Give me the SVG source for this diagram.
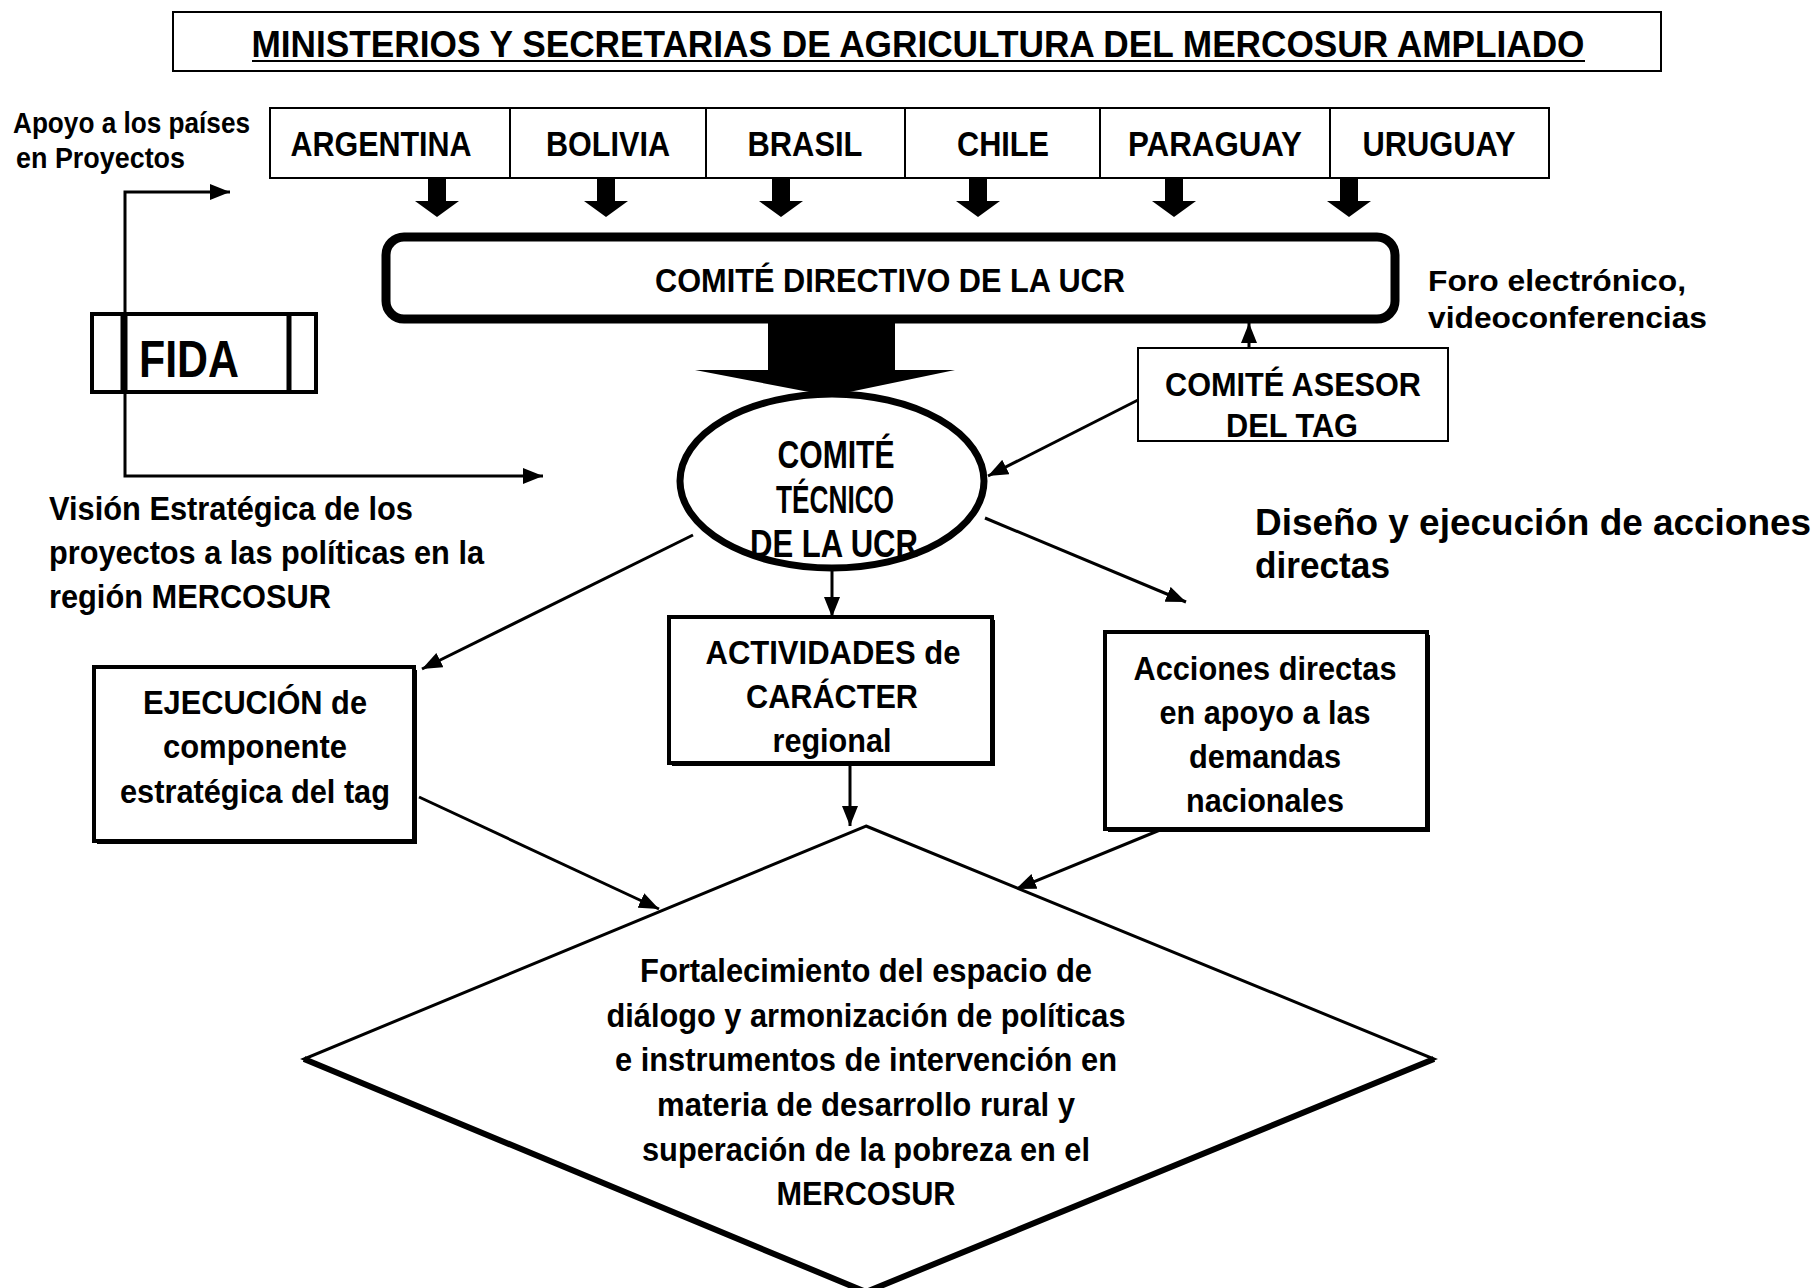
<svg xmlns="http://www.w3.org/2000/svg" width="1817" height="1288" viewBox="0 0 1817 1288">
<defs>
<style>
.t{font-family:"Liberation Sans",Arial,sans-serif;font-weight:bold;fill:#000;}
.c{text-anchor:middle;}
.box{fill:#fff;stroke:#000;stroke-width:2;}
.sbox{fill:#fff;stroke:#000;stroke-width:4;}
.ln{fill:none;stroke:#000;stroke-width:3;}
.blk{fill:#000;stroke:none;}
</style>
<marker id="ah" markerUnits="userSpaceOnUse" markerWidth="20" markerHeight="16" refX="20" refY="8" orient="auto">
<path d="M0,0 L20,8 L0,16 z" fill="#000"/>
</marker>
</defs>
<rect width="1817" height="1288" fill="#fff"/>

<g id="connectors">
<path class="ln" d="M125,300 V192 H230" marker-end="url(#ah)"/>
<path class="ln" d="M125,300 V476 H543" marker-end="url(#ah)"/>
<polygon class="blk" points="428,177 446,177 446,201 459,201 437,217 415,201 428,201"/>
<polygon class="blk" points="597,177 615,177 615,201 628,201 606,217 584,201 597,201"/>
<polygon class="blk" points="772,177 790,177 790,201 803,201 781,217 759,201 772,201"/>
<polygon class="blk" points="969,177 987,177 987,201 1000,201 978,217 956,201 969,201"/>
<polygon class="blk" points="1165,177 1183,177 1183,201 1196,201 1174,217 1152,201 1165,201"/>
<polygon class="blk" points="1340,177 1358,177 1358,201 1371,201 1349,217 1327,201 1340,201"/>
<polygon class="blk" points="768,322 895,322 895,370 955,370 830,396 695,370 768,370"/>
<path class="ln" d="M1249,348 V323" marker-end="url(#ah)"/>
<path class="ln" d="M1138,400 L988,476" marker-end="url(#ah)"/>
<path class="ln" d="M693,535 L422,669" marker-end="url(#ah)"/>
<path class="ln" d="M832,571 V617" marker-end="url(#ah)"/>
<path class="ln" d="M985,518 L1186,602" marker-end="url(#ah)"/>
<path class="ln" d="M419,797 L659,909" marker-end="url(#ah)"/>
<path class="ln" d="M850,765 V826" marker-end="url(#ah)"/>
<path class="ln" d="M1160,830 L1016,889" marker-end="url(#ah)"/>
</g>

<g id="title">
<rect class="box" x="173" y="12" width="1488" height="59"/>
<text class="t c" x="918" y="57" font-size="36" textLength="1333" lengthAdjust="spacingAndGlyphs">MINISTERIOS Y SECRETARIAS DE AGRICULTURA DEL MERCOSUR AMPLIADO</text>
<line x1="252" y1="61" x2="1585" y2="61" stroke="#000" stroke-width="2"/>
</g>

<g id="countries">
<rect class="box" x="270" y="108" width="1279" height="70"/>
<line x1="510" y1="108" x2="510" y2="178" stroke="#000" stroke-width="2"/>
<line x1="706" y1="108" x2="706" y2="178" stroke="#000" stroke-width="2"/>
<line x1="905" y1="108" x2="905" y2="178" stroke="#000" stroke-width="2"/>
<line x1="1100" y1="108" x2="1100" y2="178" stroke="#000" stroke-width="2"/>
<line x1="1330" y1="108" x2="1330" y2="178" stroke="#000" stroke-width="2"/>
<g id="argentina"><text class="t c" x="381" y="156" font-size="35" textLength="181" lengthAdjust="spacingAndGlyphs">ARGENTINA</text></g>
<g id="bolivia"><text class="t c" x="608" y="156" font-size="35" textLength="124" lengthAdjust="spacingAndGlyphs">BOLIVIA</text></g>
<g id="brasil"><text class="t c" x="805" y="156" font-size="35" textLength="115" lengthAdjust="spacingAndGlyphs">BRASIL</text></g>
<g id="chile"><text class="t c" x="1003" y="156" font-size="35" textLength="92" lengthAdjust="spacingAndGlyphs">CHILE</text></g>
<g id="paraguay"><text class="t c" x="1215" y="156" font-size="35" textLength="174" lengthAdjust="spacingAndGlyphs">PARAGUAY</text></g>
<g id="uruguay"><text class="t c" x="1439" y="156" font-size="35" textLength="153" lengthAdjust="spacingAndGlyphs">URUGUAY</text></g>
</g>

<g id="apoyo-label">
<text class="t" x="13" y="133" font-size="29" textLength="237" lengthAdjust="spacingAndGlyphs">Apoyo a los países</text>
<text class="t" x="16" y="168" font-size="29" textLength="169" lengthAdjust="spacingAndGlyphs">en Proyectos</text>
</g>

<g id="comite-directivo">
<rect x="386" y="237" width="1009" height="82" rx="18" fill="#fff" stroke="#000" stroke-width="9"/>
<text class="t c" x="890" y="292" font-size="33" textLength="470" lengthAdjust="spacingAndGlyphs">COMITÉ DIRECTIVO DE LA UCR</text>
</g>

<g id="foro-label">
<text class="t" x="1428" y="291" font-size="29" textLength="258" lengthAdjust="spacingAndGlyphs">Foro electrónico,</text>
<text class="t" x="1428" y="328" font-size="29" textLength="279" lengthAdjust="spacingAndGlyphs">videoconferencias</text>
</g>

<g id="fida">
<rect x="92" y="314" width="224" height="78" fill="#fff" stroke="#000" stroke-width="4"/>
<line x1="124" y1="314" x2="124" y2="392" stroke="#000" stroke-width="7"/>
<line x1="289" y1="314" x2="289" y2="392" stroke="#000" stroke-width="5"/>
<text class="t" x="139" y="377" font-size="52" textLength="100" lengthAdjust="spacingAndGlyphs">FIDA</text>
</g>

<g id="comite-asesor">
<rect class="box" x="1138" y="348" width="310" height="93"/>
<text class="t c" x="1293" y="396" font-size="34" textLength="256" lengthAdjust="spacingAndGlyphs">COMITÉ ASESOR</text>
<text class="t c" x="1292" y="437" font-size="34" textLength="132" lengthAdjust="spacingAndGlyphs">DEL TAG</text>
</g>

<g id="comite-tecnico">
<ellipse cx="832" cy="481" rx="152" ry="87" fill="#fff" stroke="#000" stroke-width="7"/>
<text class="t c" x="836" y="468" font-size="38" textLength="117" lengthAdjust="spacingAndGlyphs">COMITÉ</text>
<text class="t c" x="835" y="513" font-size="38" textLength="118" lengthAdjust="spacingAndGlyphs">TÉCNICO</text>
<text class="t c" x="834" y="557" font-size="38" textLength="168" lengthAdjust="spacingAndGlyphs">DE LA UCR</text>
</g>

<g id="vision-label">
<text class="t" x="49" y="520" font-size="33" textLength="364" lengthAdjust="spacingAndGlyphs">Visión Estratégica de los</text>
<text class="t" x="49" y="564" font-size="33" textLength="435" lengthAdjust="spacingAndGlyphs">proyectos a las políticas en la</text>
<text class="t" x="49" y="608" font-size="33" textLength="282" lengthAdjust="spacingAndGlyphs">región MERCOSUR</text>
</g>

<g id="diseno-label">
<text class="t" x="1255" y="535" font-size="37" textLength="556" lengthAdjust="spacingAndGlyphs">Diseño y ejecución de acciones</text>
<text class="t" x="1255" y="578" font-size="37" textLength="135" lengthAdjust="spacingAndGlyphs">directas</text>
</g>

<g id="ejecucion">
<rect x="97" y="670" width="320" height="174" fill="#000"/>
<rect class="sbox" x="94" y="667" width="320" height="174"/>
<text class="t c" x="255" y="714" font-size="34" textLength="224" lengthAdjust="spacingAndGlyphs">EJECUCIÓN de</text>
<text class="t c" x="255" y="758" font-size="34" textLength="184" lengthAdjust="spacingAndGlyphs">componente</text>
<text class="t c" x="255" y="803" font-size="34" textLength="270" lengthAdjust="spacingAndGlyphs">estratégica del tag</text>
</g>

<g id="actividades">
<rect x="672" y="620" width="323" height="146" fill="#000"/>
<rect class="sbox" x="669" y="617" width="323" height="146"/>
<text class="t c" x="833" y="664" font-size="34" textLength="255" lengthAdjust="spacingAndGlyphs">ACTIVIDADES de</text>
<text class="t c" x="832" y="708" font-size="34" textLength="172" lengthAdjust="spacingAndGlyphs">CARÁCTER</text>
<text class="t c" x="832" y="752" font-size="34" textLength="119" lengthAdjust="spacingAndGlyphs">regional</text>
</g>

<g id="acciones">
<rect x="1108" y="635" width="322" height="197" fill="#000"/>
<rect class="sbox" x="1105" y="632" width="322" height="197"/>
<text class="t c" x="1265" y="680" font-size="33" textLength="263" lengthAdjust="spacingAndGlyphs">Acciones directas</text>
<text class="t c" x="1265" y="724" font-size="33" textLength="211" lengthAdjust="spacingAndGlyphs">en apoyo a las</text>
<text class="t c" x="1265" y="768" font-size="33" textLength="152" lengthAdjust="spacingAndGlyphs">demandas</text>
<text class="t c" x="1265" y="812" font-size="33" textLength="158" lengthAdjust="spacingAndGlyphs">nacionales</text>
</g>

<g id="fortalecimiento">
<polygon points="866,826 1434,1059 866,1292 304,1059" fill="#fff" stroke="#000" stroke-width="3"/>
<polyline points="304,1059 866,1292 1434,1059" fill="none" stroke="#000" stroke-width="6"/>
<text class="t c" x="866" y="982" font-size="33" textLength="452" lengthAdjust="spacingAndGlyphs">Fortalecimiento del espacio de</text>
<text class="t c" x="866" y="1027" font-size="33" textLength="519" lengthAdjust="spacingAndGlyphs">diálogo y armonización de políticas</text>
<text class="t c" x="866" y="1071" font-size="33" textLength="502" lengthAdjust="spacingAndGlyphs">e instrumentos de intervención en</text>
<text class="t c" x="866" y="1116" font-size="33" textLength="418" lengthAdjust="spacingAndGlyphs">materia de desarrollo rural y</text>
<text class="t c" x="866" y="1161" font-size="33" textLength="448" lengthAdjust="spacingAndGlyphs">superación de la pobreza en el</text>
<text class="t c" x="866" y="1205" font-size="33" textLength="179" lengthAdjust="spacingAndGlyphs">MERCOSUR</text>
</g>
</svg>
